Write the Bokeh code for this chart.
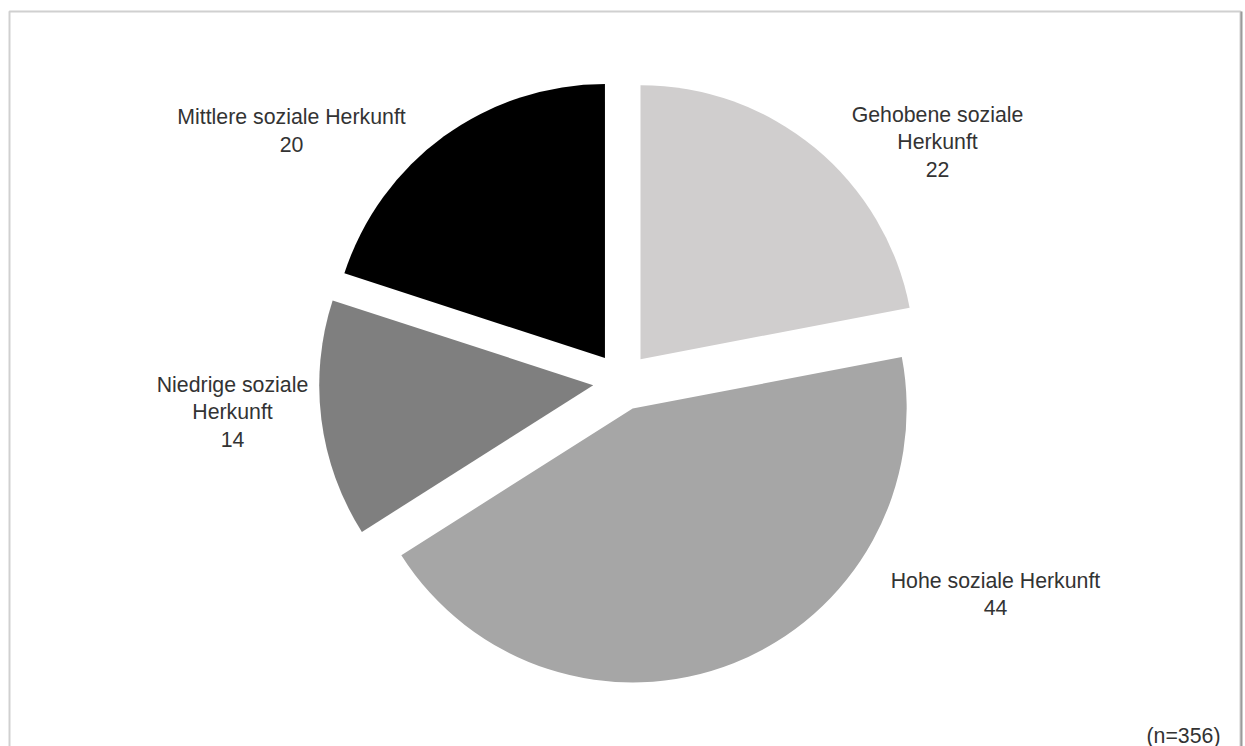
import math
from bokeh.plotting import figure
from bokeh.models import Range1d, ColumnDataSource
from bokeh.core.properties import value
from bokeh.embed import file_html
from bokeh.resources import INLINE

# ---- data ----
categories = ["Gehobene soziale Herkunft", "Hohe soziale Herkunft",
              "Niedrige soziale Herkunft", "Mittlere soziale Herkunft"]
label_names = ["Gehobene soziale\nHerkunft", "Hohe soziale Herkunft",
               "Niedrige soziale\nHerkunft", "Mittlere soziale Herkunft"]
values = [22, 44, 14, 20]
note = "(n=356)"

# ---- styles / layout ----
colors = ["#d0cece", "#a6a6a6", "#7f7f7f", "#000000"]
W, H = 1245, 746
cx, cy = 621.5, 365.0
R = 274
EXPLODE = 29
label_pos = [(937, 604), (995, 152), (232, 334), (291, 615.5)]
FONT = "Liberation Sans"
FSIZE = "21.3px"
TCOL = "#333333"

total = float(sum(values))
xs, ys, sa, ea = [], [], [], []
start = math.pi / 2
for v in values:
    end = start - v / total * 2 * math.pi
    mid = (start + end) / 2
    xs.append(cx + EXPLODE * math.cos(mid))
    ys.append(cy + EXPLODE * math.sin(mid))
    sa.append(end)
    ea.append(start)
    start = end

src = ColumnDataSource(dict(x=xs, y=ys, s=sa, e=ea, c=colors, cat=categories))

p = figure(width=W, height=H, x_range=Range1d(0, W), y_range=Range1d(0, H),
           output_backend="svg", toolbar_location=None, min_border=0,
           x_axis_type=None, y_axis_type=None)
p.grid.visible = False
p.outline_line_color = None
p.background_fill_color = "white"
p.border_fill_color = "white"

# frame of the chart area
p.quad(left=[9], right=[1240], top=[735], bottom=[-30], fill_color=None,
       line_color="#d0d0d0", line_width=2)
p.segment(x0=[1241], y0=[735], x1=[1241], y1=[-30], line_color="#9a9a9a", line_width=2)

p.wedge(x="x", y="y", radius=R, radius_units="screen", start_angle="s", end_angle="e",
        fill_color="c", line_color=None, source=src)

lsrc = ColumnDataSource(dict(
    x=[lp[0] for lp in label_pos], y=[lp[1] for lp in label_pos],
    t=[f"{n}\n{v}" for n, v in zip(label_names, values)]))
p.text(x="x", y="y", text="t", source=lsrc, text_align="center", text_baseline="middle",
       text_font=value(FONT), text_font_size=FSIZE, text_color=TCOL, text_line_height=1.16)

p.text(x=[1220], y=[11], text=[note], text_align="right", text_baseline="middle",
       text_font=value(FONT), text_font_size=FSIZE, text_color=TCOL)

open("out.html", "w").write(file_html(p, INLINE))
